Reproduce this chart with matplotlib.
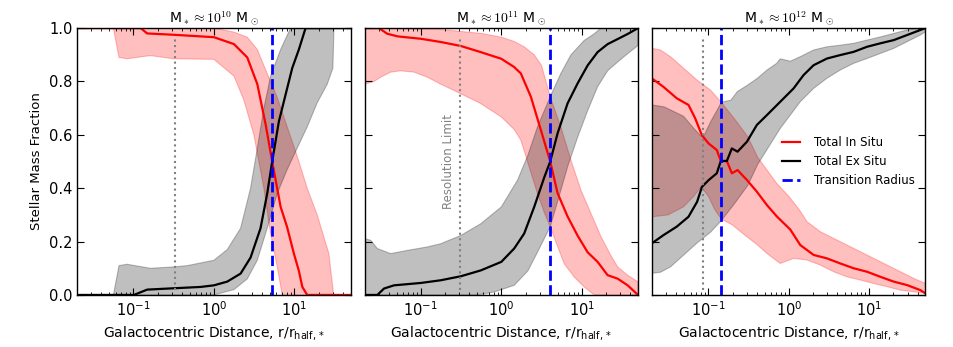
import numpy as np
import matplotlib
matplotlib.use('Agg')
import matplotlib.pyplot as plt

# radii are given as log10(r / r_half,*), fractions as stellar mass fraction
titles = [r'M$_*\approx 10^{10}$ M$_\odot$',
          r'M$_*\approx 10^{11}$ M$_\odot$',
          r'M$_*\approx 10^{12}$ M$_\odot$']
resolution_limit = [0.33, 0.31, 0.087]
transition_radius = [5.3, 4.06, 0.145]

# ---- M* ~ 1e10 ----
insitu_med_10 = [(-1.70, 1.0), (-0.91, 1.0), (-0.83, 0.98), (-0.50, 0.975), (0.0, 0.966),
                 (0.25, 0.94), (0.415, 0.89), (0.54, 0.79), (0.643, 0.64), (0.725, 0.50),
                 (0.83, 0.33), (0.91, 0.255), (0.995, 0.155), (1.057, 0.09), (1.10, 0.03),
                 (1.16, 0.0), (1.70, 0.0)]
insitu_hi_10 = [(-1.25, 1.0), (0.0, 1.0), (0.25, 0.985), (0.415, 0.966), (0.54, 0.92),
                (0.663, 0.83), (0.788, 0.74), (0.912, 0.63), (1.036, 0.52), (1.161, 0.40),
                (1.285, 0.30), (1.43, 0.155), (1.49, 0.0), (1.70, 0.0)]
insitu_lo_10 = [(-1.25, 1.0), (-1.18, 0.89), (-1.08, 0.885), (-0.79, 0.897), (-0.50, 0.885),
                (0.0, 0.883), (0.25, 0.82), (0.373, 0.73), (0.497, 0.60), (0.622, 0.40),
                (0.705, 0.23), (0.788, 0.105), (0.85, 0.0), (1.70, 0.0)]
exsitu_med_10 = [(-1.70, 0.0), (-0.995, 0.0), (-0.83, 0.02), (-0.50, 0.025), (-0.166, 0.03),
                 (0.0, 0.036), (0.166, 0.05), (0.332, 0.08), (0.456, 0.14), (0.58, 0.25),
                 (0.663, 0.38), (0.725, 0.50), (0.808, 0.65), (0.891, 0.75), (0.974, 0.85),
                 (1.057, 0.92), (1.14, 1.0), (1.70, 1.0)]
exsitu_hi_10 = [(-1.25, 0.0), (-1.18, 0.11), (-1.08, 0.115), (-0.79, 0.10), (-0.50, 0.105),
                (-0.33, 0.11), (0.0, 0.13), (0.166, 0.17), (0.332, 0.25), (0.456, 0.40),
                (0.54, 0.55), (0.622, 0.70), (0.705, 0.82), (0.83, 0.92), (0.953, 1.0),
                (1.70, 1.0)]
exsitu_lo_10 = [(-1.25, 0.0), (0.0, 0.0), (0.25, 0.02), (0.415, 0.06), (0.54, 0.13),
                (0.663, 0.25), (0.788, 0.38), (0.912, 0.47), (1.036, 0.55), (1.161, 0.63),
                (1.285, 0.72), (1.41, 0.79), (1.48, 0.85), (1.493, 1.0), (1.70, 1.0)]

# ---- M* ~ 1e11 ----
insitu_med_11 = [(-1.70, 1.0), (-1.52, 1.0), (-1.42, 0.979), (-1.29, 0.969), (-1.0, 0.96),
                 (-0.754, 0.948), (-0.504, 0.933), (-0.255, 0.91), (0.0, 0.885), (0.16, 0.854),
                 (0.243, 0.83), (0.367, 0.743), (0.492, 0.618), (0.608, 0.50), (0.70, 0.381),
                 (0.824, 0.294), (0.949, 0.222), (1.073, 0.16), (1.197, 0.124), (1.322, 0.074),
                 (1.447, 0.061), (1.571, 0.036), (1.70, 0.0)]
insitu_hi_11 = [(-1.70, 1.0), (-0.75, 0.995), (-0.25, 0.98), (0.0, 0.966), (0.16, 0.95),
                (0.284, 0.93), (0.409, 0.90), (0.50, 0.86), (0.608, 0.743), (0.74, 0.63),
                (0.866, 0.505), (0.99, 0.393), (1.114, 0.306), (1.24, 0.218), (1.36, 0.149),
                (1.447, 0.105), (1.571, 0.074), (1.70, 0.049)]
insitu_lo_11 = [(-1.70, 0.79), (-1.584, 0.80), (-1.50, 0.816), (-1.376, 0.835), (-1.252, 0.84),
                (-1.086, 0.835), (-0.92, 0.816), (-0.754, 0.79), (-0.504, 0.754),
                (-0.255, 0.717), (0.0, 0.667), (0.16, 0.62), (0.243, 0.58), (0.346, 0.48),
                (0.45, 0.38), (0.533, 0.31), (0.608, 0.256), (0.658, 0.215), (0.74, 0.15),
                (0.782, 0.117), (0.907, 0.067), (1.031, 0.03), (1.156, 0.0), (1.70, 0.0)]
exsitu_med_11 = [(-1.70, 0.0), (-1.542, 0.0), (-1.459, 0.024), (-1.335, 0.036), (-1.0, 0.045),
                 (-0.754, 0.055), (-0.504, 0.07), (-0.255, 0.092), (0.0, 0.124), (0.16, 0.174),
                 (0.284, 0.23), (0.409, 0.33), (0.533, 0.44), (0.608, 0.50), (0.70, 0.606),
                 (0.824, 0.718), (0.949, 0.793), (1.073, 0.86), (1.197, 0.91), (1.322, 0.94),
                 (1.447, 0.959), (1.571, 0.978), (1.70, 1.0)]
exsitu_hi_11 = [(-1.70, 0.211), (-1.625, 0.205), (-1.542, 0.174), (-1.376, 0.155),
                (-1.169, 0.167), (-0.92, 0.18), (-0.754, 0.192), (-0.504, 0.223),
                (-0.255, 0.267), (0.0, 0.33), (0.201, 0.43), (0.326, 0.52), (0.45, 0.63),
                (0.608, 0.743), (0.74, 0.83), (0.866, 0.90), (1.031, 0.954), (1.156, 0.979),
                (1.239, 1.0), (1.70, 1.0)]
exsitu_lo_11 = [(-1.70, 0.0), (-0.30, 0.0), (-0.089, 0.011), (0.16, 0.036), (0.33, 0.09),
                (0.45, 0.16), (0.608, 0.256), (0.70, 0.35), (0.824, 0.48), (0.948, 0.59),
                (1.073, 0.69), (1.197, 0.78), (1.322, 0.84), (1.447, 0.873), (1.571, 0.904),
                (1.70, 0.935)]

# ---- M* ~ 1e12 ----
insitu_med_12 = [(-1.70, 0.811), (-1.559, 0.78), (-1.393, 0.737), (-1.247, 0.712),
                 (-1.164, 0.662), (-1.081, 0.599), (-0.998, 0.568), (-0.895, 0.543),
                 (-0.845, 0.502), (-0.77, 0.502), (-0.708, 0.456), (-0.637, 0.468),
                 (-0.521, 0.431), (-0.397, 0.387), (-0.272, 0.337), (-0.148, 0.294),
                 (0.019, 0.245), (0.143, 0.187), (0.309, 0.15), (0.475, 0.137), (0.641, 0.118),
                 (0.807, 0.10), (0.973, 0.087), (1.139, 0.068), (1.305, 0.05), (1.471, 0.037),
                 (1.637, 0.018), (1.70, 0.006)]
insitu_hi_12 = [(-1.70, 0.924), (-1.596, 0.918), (-1.471, 0.893), (-1.305, 0.849),
                (-1.139, 0.805), (-0.973, 0.768), (-0.84, 0.722), (-0.68, 0.662),
                (-0.51, 0.593), (-0.385, 0.515), (-0.27, 0.468), (-0.15, 0.418), (0.0, 0.37),
                (0.13, 0.32), (0.226, 0.275), (0.392, 0.237), (0.558, 0.212), (0.724, 0.187),
                (0.89, 0.162), (1.056, 0.137), (1.222, 0.112), (1.388, 0.087), (1.554, 0.062),
                (1.70, 0.043)]
insitu_lo_12 = [(-1.70, 0.293), (-1.50, 0.30), (-1.31, 0.33), (-1.18, 0.37), (-1.09, 0.405),
                (-1.0, 0.37), (-0.92, 0.32), (-0.84, 0.285), (-0.70, 0.262), (-0.55, 0.225),
                (-0.40, 0.19), (-0.27, 0.155), (-0.106, 0.118), (0.06, 0.137), (0.226, 0.131),
                (0.392, 0.112), (0.558, 0.087), (0.724, 0.068), (0.89, 0.056), (1.056, 0.043),
                (1.222, 0.031), (1.388, 0.018), (1.554, 0.012), (1.70, 0.006)]
exsitu_med_12 = [(-1.70, 0.194), (-1.559, 0.224), (-1.393, 0.256), (-1.247, 0.293),
                 (-1.14, 0.349), (-1.08, 0.405), (-0.998, 0.43), (-0.895, 0.456),
                 (-0.845, 0.502), (-0.77, 0.502), (-0.708, 0.549), (-0.637, 0.537),
                 (-0.521, 0.574), (-0.397, 0.637), (-0.272, 0.674), (-0.106, 0.724),
                 (0.06, 0.774), (0.184, 0.824), (0.309, 0.861), (0.475, 0.886), (0.641, 0.899),
                 (0.807, 0.911), (0.973, 0.93), (1.139, 0.943), (1.305, 0.955), (1.471, 0.974),
                 (1.637, 0.993), (1.70, 1.0)]
exsitu_hi_12 = [(-1.70, 0.712), (-1.55, 0.705), (-1.31, 0.67), (-1.18, 0.624), (-1.09, 0.595),
                (-1.05, 0.60), (-0.97, 0.65), (-0.89, 0.693), (-0.84, 0.722), (-0.72, 0.73),
                (-0.64, 0.762), (-0.51, 0.787), (-0.39, 0.812), (-0.27, 0.843), (-0.15, 0.868),
                (-0.106, 0.885), (0.019, 0.876), (0.143, 0.893), (0.309, 0.918), (0.475, 0.93),
                (0.641, 0.936), (0.807, 0.943), (0.973, 0.955), (1.139, 0.967), (1.305, 0.98),
                (1.471, 0.993), (1.637, 1.0), (1.70, 1.0)]
exsitu_lo_12 = [(-1.70, 0.081), (-1.596, 0.085), (-1.471, 0.105), (-1.305, 0.15),
                (-1.139, 0.195), (-0.973, 0.235), (-0.84, 0.278), (-0.68, 0.34), (-0.51, 0.41),
                (-0.385, 0.49), (-0.27, 0.545), (-0.106, 0.624), (0.019, 0.674), (0.143, 0.724),
                (0.309, 0.774), (0.475, 0.812), (0.641, 0.843), (0.807, 0.868), (0.973, 0.886),
                (1.139, 0.905), (1.305, 0.924), (1.471, 0.949), (1.637, 0.974), (1.70, 0.986)]

panels = [
    (insitu_med_10, insitu_hi_10, insitu_lo_10, exsitu_med_10, exsitu_hi_10, exsitu_lo_10),
    (insitu_med_11, insitu_hi_11, insitu_lo_11, exsitu_med_11, exsitu_hi_11, exsitu_lo_11),
    (insitu_med_12, insitu_hi_12, insitu_lo_12, exsitu_med_12, exsitu_hi_12, exsitu_lo_12),
]


def curve(pairs):
    arr = np.array(pairs)
    return 10 ** arr[:, 0], arr[:, 1]


def band(upper, lower):
    ru, fu = curve(upper)
    rl, fl = curve(lower)
    return np.concatenate([ru, rl[::-1]]), np.concatenate([fu, fl[::-1]])


plt.rcParams['axes.linewidth'] = 1.0

fig, axes = plt.subplots(1, 3, figsize=(9.54, 3.47), dpi=100, sharey=True)
fig.subplots_adjust(left=0.081, right=0.970, bottom=0.150, top=0.919, wspace=0.052)

for i, ax in enumerate(axes):
    in_med, in_hi, in_lo, ex_med, ex_hi, ex_lo = panels[i]
    ax.fill(*band(in_hi, in_lo), color='red', alpha=0.25, lw=0.8)
    ax.fill(*band(ex_hi, ex_lo), color='black', alpha=0.25, lw=0.8)
    ax.plot(*curve(in_med), color='red', lw=1.6, label='Total In Situ')
    ax.plot(*curve(ex_med), color='black', lw=1.6, label='Total Ex Situ')
    ax.axvline(resolution_limit[i], ymin=0.02, ymax=0.97, color='grey', ls=':', lw=1.5)
    ax.axvline(transition_radius[i], color='blue', ls='--', lw=2, label='Transition Radius')

    ax.set_xscale('log')
    ax.set_xlim(0.02, 50)
    ax.set_ylim(0, 1)
    ax.set_title(titles[i], fontsize=10, math_fontfamily='cm', pad=4)
    ax.set_xlabel(r'Galactocentric Distance, r/r$_{\rm half,*}$', fontsize=10)
    ax.tick_params(which='both', direction='in', top=True, right=True, labelsize=10.5)
    ax.tick_params(which='major', length=5)
    ax.tick_params(which='minor', length=2.5)

axes[0].set_ylabel('Stellar Mass Fraction', fontsize=9.5)
axes[1].text(0.22, 0.5, 'Resolution Limit', rotation=90, color='grey',
             ha='center', va='center', fontsize=8.5)
axes[2].legend(loc='center right', frameon=False, fontsize=8.5,
               handlelength=1.5, handletextpad=1.2)

fig.savefig('out.png', dpi=100)
